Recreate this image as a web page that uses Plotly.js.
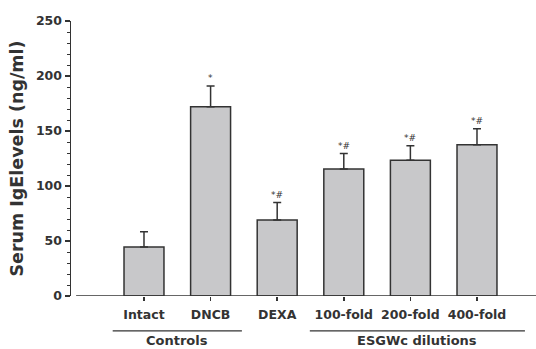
<!DOCTYPE html>
<html><head><meta charset="utf-8">
<script src="https://cdn.plot.ly/plotly-3.0.1.min.js"></script>
<style>html,body{margin:0;padding:0;background:#fff}#c{width:536px;height:349px}</style>
</head><body><div id="c"></div>
<script>
const categories = ["Intact", "DNCB", "DEXA", "100-fold", "200-fold", "400-fold"];
const values = [44.5, 172, 69, 115.5, 123.5, 137.5];
const errors = [14, 19, 16, 14, 13, 14.5];
const marks = ["", "*", "*#", "*#", "*#", "*#"];
const groups = ["Controls", "ESGWc dilutions"];
const groupSpans = [[-0.47, 1.47], [2.49, 5.72]];
const yTicks = [0, 50, 100, 150, 200, 250];

const xIdx = categories.map((c, i) => i);
const font = "'DejaVu Sans', sans-serif";
const dark = "#333333";

const traces = [{
  type: "bar", x: xIdx, y: values, width: 0.6,
  marker: {color: "#c8c8ca", line: {color: dark, width: 1.5}},
  error_y: {type: "data", array: errors, arrayminus: errors.map(() => 0), symmetric: false,
            color: dark, thickness: 1.5, width: 4},
  hoverinfo: "none"
}];

const annotations = [];
xIdx.forEach((x, i) => {
  if (marks[i]) annotations.push({x: x, y: values[i] + errors[i], xref: "x", yref: "y",
    text: marks[i], showarrow: false, yanchor: "bottom", yshift: 1,
    font: {family: font, size: 9, color: dark}});
});
const shapes = [{type: "line", xref: "paper", yref: "y", x0: 0.011, x1: 1, y0: 0, y1: 0,
  line: {color: dark, width: 1.5}}];
groups.forEach((g, i) => {
  const [a, b] = groupSpans[i];
  shapes.push({type: "line", xref: "x", yref: "paper", x0: a, x1: b, y0: -0.127, y1: -0.127,
    line: {color: dark, width: 1.3}});
  annotations.push({x: (a + b) / 2, y: -0.127, xref: "x", yref: "paper", text: "<b>" + g + "</b>",
    showarrow: false, yanchor: "top", yshift: 0, font: {family: font, size: 13, color: dark}});
});

const layout = {
  width: 536, height: 349,
  margin: {l: 71, r: 0, t: 21, b: 53},
  paper_bgcolor: "#fff", plot_bgcolor: "#fff",
  showlegend: false, bargap: 0.4,
  font: {family: font, color: dark},
  xaxis: {
    range: [-1.096, 5.886], tickvals: xIdx, ticktext: categories.map(c => "<b>" + c + "</b>"),
    showline: false, zeroline: false, showgrid: false,
    ticks: "outside", ticklen: 4, tickwidth: 1.5, tickcolor: dark, ticklabelstandoff: 3,
    tickfont: {family: font, size: 12.5, color: dark}
  },
  yaxis: {
    range: [0, 250], tickvals: yTicks, ticktext: yTicks.map(v => "<b>" + v + "</b>"),
    showline: true, linecolor: dark, linewidth: 1.5, zeroline: false, showgrid: false,
    ticks: "outside", ticklen: 5, tickwidth: 1.5, tickcolor: dark, ticklabelstandoff: 0,
    minor: {dtick: 10, ticks: "outside", ticklen: 3, tickwidth: 1, tickcolor: dark, showgrid: false},
    tickfont: {family: font, size: 12.5, color: dark},
    title: {text: "<b>Serum IgElevels (ng/ml)</b>", font: {family: font, size: 17.5, color: dark}, standoff: 8}
  },
  shapes: shapes, annotations: annotations
};
Plotly.newPlot("c", traces, layout, {displayModeBar: false, staticPlot: true});
</script></body></html>
